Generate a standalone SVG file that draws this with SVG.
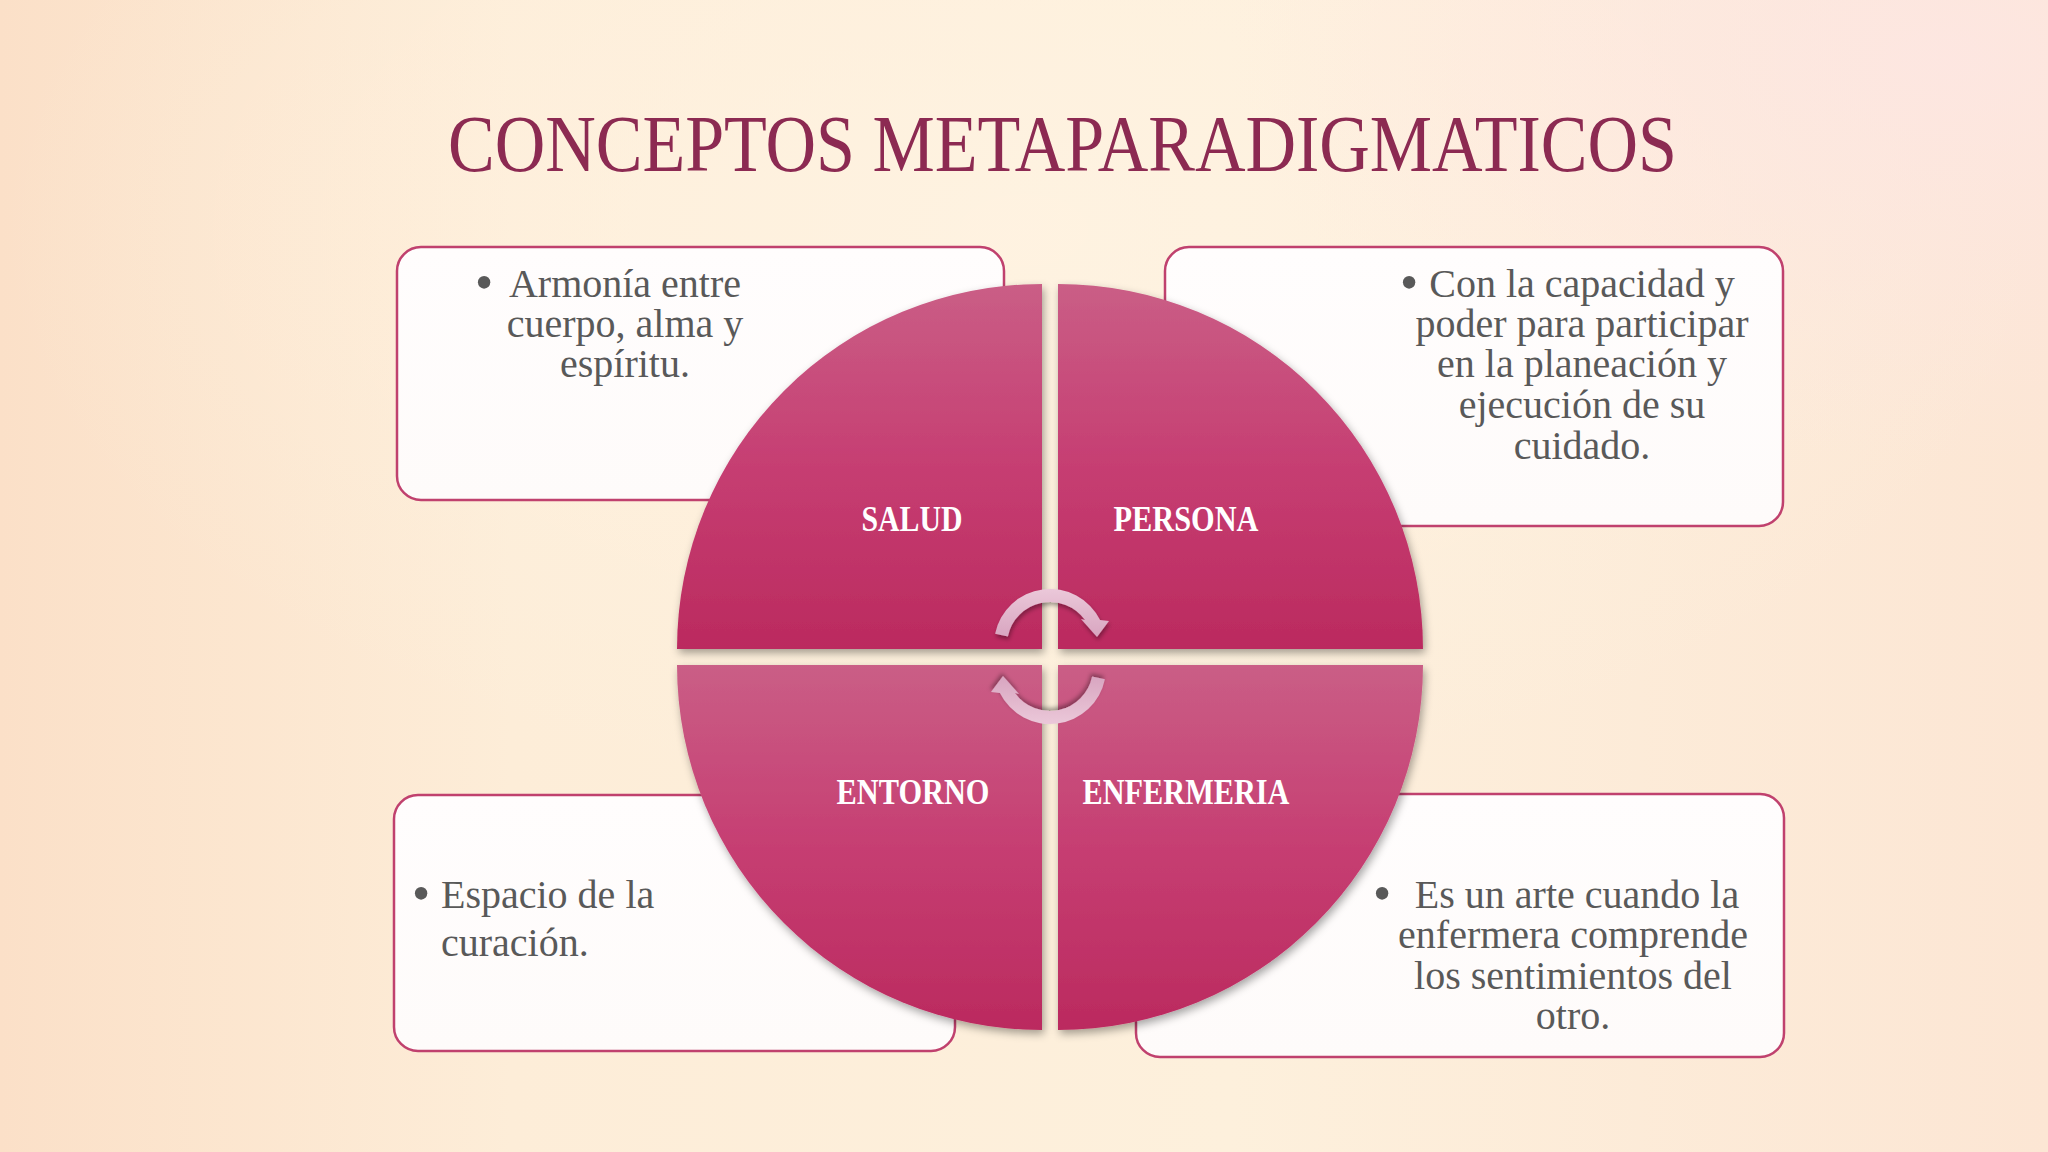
<svg xmlns="http://www.w3.org/2000/svg" width="2048" height="1152" viewBox="0 0 2048 1152">
  <defs>
    <linearGradient id="bg" x1="0" y1="0" x2="1" y2="0">
      <stop offset="0" stop-color="#fbe0c8"/>
      <stop offset="0.25" stop-color="#fdedd8"/>
      <stop offset="0.6" stop-color="#fdf0dc"/>
      <stop offset="1" stop-color="#fce6d4"/>
    </linearGradient>
    <radialGradient id="glow1" cx="0.5" cy="0.2" r="0.5">
      <stop offset="0" stop-color="#fff3e2" stop-opacity="0.8"/>
      <stop offset="1" stop-color="#fff3e2" stop-opacity="0"/>
    </radialGradient>
    <radialGradient id="glow2" cx="0.95" cy="0.05" r="0.35">
      <stop offset="0" stop-color="#fde6e2" stop-opacity="0.9"/>
      <stop offset="1" stop-color="#fde6e2" stop-opacity="0"/>
    </radialGradient>
    <linearGradient id="quad" x1="0" y1="0" x2="0" y2="1">
      <stop offset="0" stop-color="#ca5e86"/>
      <stop offset="0.5" stop-color="#c63e72"/>
      <stop offset="1" stop-color="#bb2a5f"/>
    </linearGradient>
    <linearGradient id="arrowfill" x1="0" y1="0" x2="0" y2="1">
      <stop offset="0" stop-color="#ebc8d9"/>
      <stop offset="1" stop-color="#d8a5c0"/>
    </linearGradient>
    <linearGradient id="boxfill" x1="0" y1="0" x2="0" y2="1">
      <stop offset="0" stop-color="#fffdfd"/>
      <stop offset="1" stop-color="#fefbfa"/>
    </linearGradient>
    <filter id="shadow" x="-10%" y="-10%" width="125%" height="125%">
      <feDropShadow dx="2" dy="4" stdDeviation="4" flood-color="#000000" flood-opacity="0.35"/>
    </filter>
    <filter id="ashadow" x="-20%" y="-20%" width="150%" height="150%">
      <feDropShadow dx="1" dy="3" stdDeviation="2" flood-color="#000000" flood-opacity="0.35"/>
    </filter>
    <path id="arrowTop" d="M995.1,633.7 A56,56 0 0 1 1100.1,620 L1109,621 L1097,637 L1081,619 L1085,620 A43,43 0 0 0 1007.9,636.4 Z"/>
  </defs>
  <style>
    .box { fill: url(#boxfill); stroke: #c0416e; stroke-width: 2.5; }
    .quad { fill: url(#quad); filter: url(#shadow); }
    .body { font-family: "Liberation Serif", "DejaVu Serif", serif; font-size: 40px; fill: #595959; }
    .c { text-anchor: middle; }
    .bul { font-family: "Liberation Serif", "DejaVu Serif", serif; font-size: 52px; fill: #595959; text-anchor: middle; }
    .lbl { font-family: "Liberation Serif", "DejaVu Serif", serif; font-size: 35px; font-weight: bold; fill: #ffffff; text-anchor: middle; }
    .title { font-family: "Liberation Serif", "DejaVu Serif", serif; font-size: 80px; fill: #8c2a52; }
    .arrow { fill: url(#arrowfill); filter: url(#ashadow); }
  </style>

  <rect x="0" y="0" width="2048" height="1152" fill="url(#bg)"/>
  <rect x="0" y="0" width="2048" height="1152" fill="url(#glow1)"/>
  <rect x="0" y="0" width="2048" height="1152" fill="url(#glow2)"/>

  <text id="title" class="title" x="448" y="171" textLength="1229" lengthAdjust="spacingAndGlyphs">CONCEPTOS METAPARADIGMATICOS</text>

  <g id="box-salud">
    <rect class="box" x="397" y="247" width="607" height="253" rx="24"/>
    <text class="bul" x="484" y="300">•</text>
    <text class="body c" x="625" y="297">Armonía entre</text>
    <text class="body c" x="625" y="337">cuerpo, alma y</text>
    <text class="body c" x="625" y="377">espíritu.</text>
  </g>

  <g id="box-persona">
    <rect class="box" x="1165" y="247" width="618" height="279" rx="24"/>
    <text class="bul" x="1409" y="300">•</text>
    <text class="body c" x="1582" y="297">Con la capacidad y</text>
    <text class="body c" x="1582" y="337">poder para participar</text>
    <text class="body c" x="1582" y="377">en la planeación y</text>
    <text class="body c" x="1582" y="418">ejecución de su</text>
    <text class="body c" x="1582" y="459">cuidado.</text>
  </g>

  <g id="box-entorno">
    <rect class="box" x="394" y="795" width="561" height="256" rx="24"/>
    <text class="bul" x="421" y="911">•</text>
    <text class="body" x="441" y="908">Espacio de la</text>
    <text class="body" x="441" y="956">curación.</text>
  </g>

  <g id="box-enfermeria">
    <rect class="box" x="1136" y="794" width="648" height="263" rx="24"/>
    <text class="bul" x="1382" y="911">•</text>
    <text class="body c" x="1577" y="908">Es un arte cuando la</text>
    <text class="body c" x="1573" y="948">enfermera comprende</text>
    <text class="body c" x="1573" y="989">los sentimientos del</text>
    <text class="body c" x="1573" y="1029">otro.</text>
  </g>

  <g id="node-salud">
    <path class="quad" d="M1042,649 L677,649 A365,365 0 0 1 1042,284 Z"/>
    <text class="lbl" x="912" y="531" textLength="101" lengthAdjust="spacingAndGlyphs">SALUD</text>
  </g>
  <g id="node-persona">
    <path class="quad" d="M1058,649 L1058,284 A365,365 0 0 1 1423,649 Z"/>
    <text class="lbl" x="1186" y="531" textLength="145" lengthAdjust="spacingAndGlyphs">PERSONA</text>
  </g>
  <g id="node-entorno">
    <path class="quad" d="M1042,665 L1042,1030 A365,365 0 0 1 677,665 Z"/>
    <text class="lbl" x="913" y="804" textLength="153" lengthAdjust="spacingAndGlyphs">ENTORNO</text>
  </g>
  <g id="node-enfermeria">
    <path class="quad" d="M1058,665 L1423,665 A365,365 0 0 1 1058,1030 Z"/>
    <text class="lbl" x="1186" y="804" textLength="207" lengthAdjust="spacingAndGlyphs">ENFERMERIA</text>
  </g>

  <g id="connectors">
    <use href="#arrowTop" class="arrow"/>
    <use href="#arrowTop" class="arrow" transform="rotate(180 1050 656.5)"/>
  </g>
</svg>
